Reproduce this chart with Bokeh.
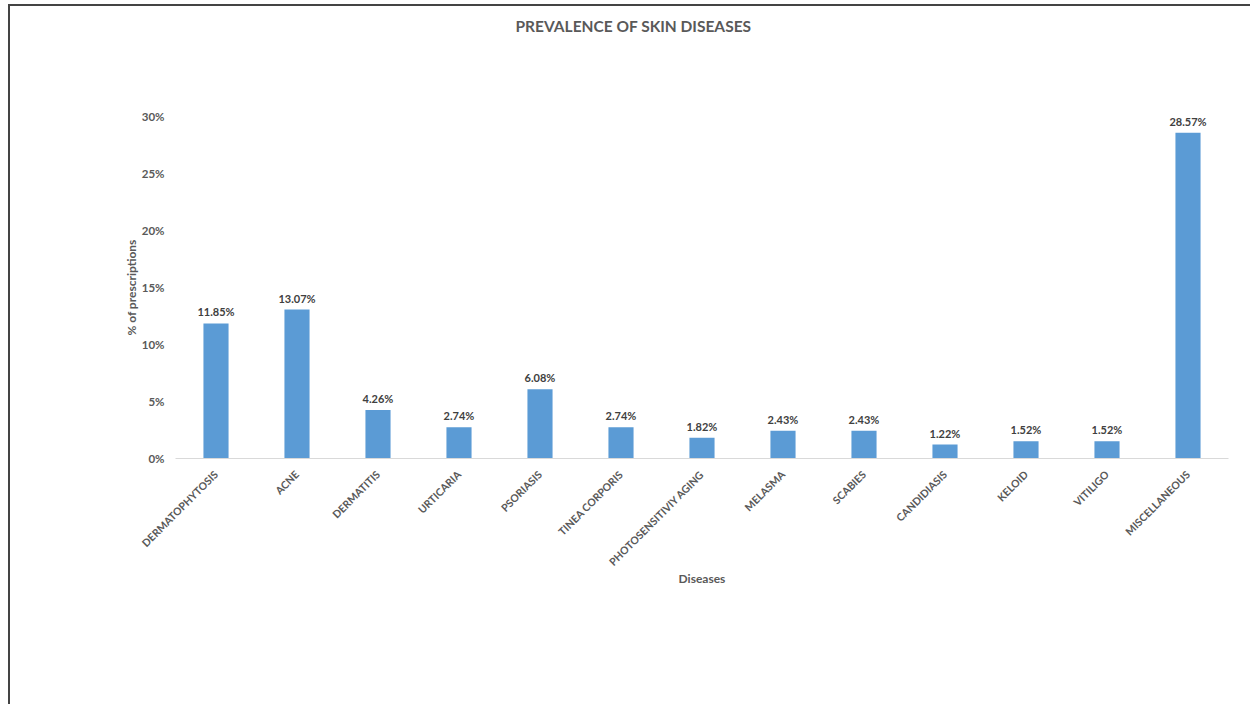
from math import pi

from bokeh.embed import file_html
from bokeh.models import ColumnDataSource, PrintfTickFormatter, Range1d, Title
from bokeh.plotting import figure
from bokeh.resources import INLINE

diseases = [
    "DERMATOPHYTOSIS", "ACNE", "DERMATITIS", "URTICARIA", "PSORIASIS",
    "TINEA CORPORIS", "PHOTOSENSITIVIY AGING", "MELASMA", "SCABIES",
    "CANDIDIASIS", "KELOID", "VITILIGO", "MISCELLANEOUS",
]
share_pct = [11.85, 13.07, 4.26, 2.74, 6.08, 2.74, 1.82, 2.43, 2.43, 1.22, 1.52, 1.52, 28.57]
y_ticks = [0, 5, 10, 15, 20, 25, 30]

FONT = "Lato"
TEXT = "#595959"
BAR = "#5B9BD5"

src = ColumnDataSource(dict(
    disease=diseases,
    share=share_pct,
    label=[f"{v:.2f}%" for v in share_pct],
))

p = figure(
    x_range=diseases,
    y_range=Range1d(0, 30),
    width=1242, height=700,
    output_backend="svg", toolbar_location=None,
    min_border_left=165, min_border_right=24,
    min_border_top=0, min_border_bottom=248,
    title="PREVALENCE OF SKIN DISEASES",
)
p.styles = {
    "margin-left": "8px", "margin-top": "4px",
    "border-left": "2px solid #444444", "border-top": "2px solid #444444",
}
p.outline_line_color = None
p.background_fill_color = "white"
p.border_fill_color = "white"
p.grid.grid_line_color = None

p.title.align = "left"
p.title.offset = 340
p.title.standoff = 17
p.title.text_font = FONT
p.title.text_font_size = "15.5px"
p.title.text_font_style = "bold"
p.title.text_color = TEXT

# blank band between the title and the plot area
p.add_layout(Title(text=" ", text_font_size="10px", standoff=60), "above")

p.vbar(x="disease", top="share", width=0.31, source=src, fill_color=BAR, line_color=None)
p.text(x="disease", y="share", text="label", source=src,
       text_align="center", text_baseline="bottom", y_offset=-5,
       text_font_size="11px", text_font_style="bold", text_color="#404040",
       text_font={"value": FONT})

# y axis
ya = p.yaxis[0]
ya.ticker = y_ticks
ya.formatter = PrintfTickFormatter(format="%d%%")
ya.axis_line_color = None
ya.major_tick_line_color = None
ya.minor_tick_line_color = None
ya.major_label_standoff = 5
ya.major_label_text_font = FONT
ya.major_label_text_font_size = "11.5px"
ya.major_label_text_font_style = "bold"
ya.major_label_text_color = TEXT
ya.axis_label = "% of prescriptions"
ya.axis_label_standoff = 0
ya.axis_label_text_font = FONT
ya.axis_label_text_font_size = "12px"
ya.axis_label_text_font_style = "bold"
ya.axis_label_text_color = TEXT

# x axis
xa = p.xaxis[0]
xa.axis_line_color = "#D9D9D9"
xa.axis_line_width = 1
xa.major_tick_line_color = None
xa.minor_tick_line_color = None
xa.major_label_orientation = pi / 4
xa.major_label_standoff = 8
xa.major_label_text_font = FONT
xa.major_label_text_font_size = "10.5px"
xa.major_label_text_font_style = "bold"
xa.major_label_text_color = TEXT
xa.axis_label = "Diseases"
xa.axis_label_standoff = -4
xa.axis_label_text_font = FONT
xa.axis_label_text_font_size = "12px"
xa.axis_label_text_font_style = "bold"
xa.axis_label_text_color = TEXT

open("out.html", "w").write(file_html(p, INLINE))
